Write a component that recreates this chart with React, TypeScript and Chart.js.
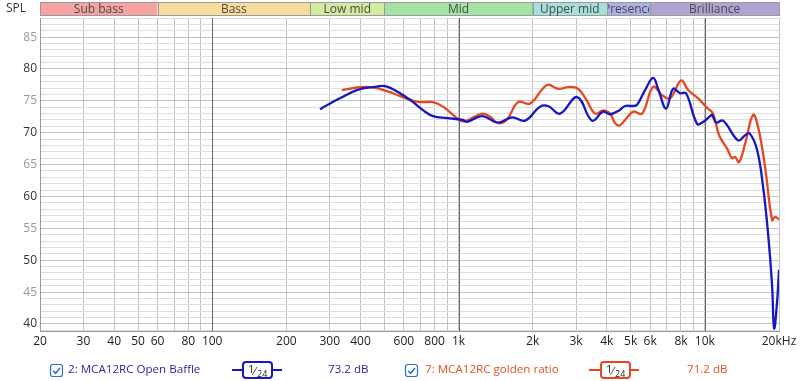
import React, { useEffect, useRef } from 'react';
import { Chart, registerables } from 'chart.js';

Chart.register(...registerables);

const FONT = '"Open Sans", "Noto Sans", sans-serif';

// Series 2: MCA12RC Open Baffle (frequency Hz, SPL dB)
const openBaffleFreq = [274, 301, 330, 387, 458, 503, 579, 654, 720, 788, 899, 1043, 1083, 1246, 1447, 1650, 1863, 2143, 2310, 2584, 3030, 3486, 3862, 4124, 4486, 4744, 5112, 5308, 5720, 6166, 6458, 6960, 7432, 7934, 8392, 9300, 9838, 10504, 10700, 11110, 11858, 13642, 14570, 15200, 16300, 17238, 18058, 18752, 19108, 19648, 20000];
const openBaffleDb = [73.7, 74.6, 75.4, 76.7, 77.2, 77.3, 76.2, 74.8, 73.5, 72.6, 72.3, 72.0, 71.7, 72.6, 71.6, 72.4, 71.9, 74.1, 74.2, 73.0, 75.6, 71.9, 73.3, 72.9, 73.5, 74.2, 74.2, 74.4, 76.7, 78.6, 76.9, 73.8, 76.9, 76.2, 76.2, 71.4, 71.7, 72.6, 72.8, 71.6, 71.9, 68.8, 69.6, 69.9, 67.3, 61.5, 54.2, 46.0, 39.3, 43.5, 48.5];

// Series 7: MCA12RC golden ratio
const goldenFreq = [336, 387, 425, 467, 542, 654, 718, 788, 865, 950, 1030, 1093, 1246, 1343, 1447, 1574, 1744, 1952, 2288, 2536, 2838, 3058, 3300, 3584, 3862, 4124, 4322, 4528, 5112, 5562, 6166, 6704, 7226, 8008, 8550, 9390, 10214, 10802, 11426, 12312, 12898, 13266, 13772, 14570, 15696, 16454, 17564, 18752, 19286, 20000];
const goldenDb = [76.7, 77.1, 77.2, 77.0, 76.2, 75.0, 74.8, 74.8, 74.1, 72.8, 71.8, 72.0, 73.0, 72.5, 71.5, 72.1, 74.8, 74.6, 77.5, 76.9, 77.2, 76.9, 75.2, 73.0, 73.5, 73.0, 71.5, 71.2, 73.3, 73.0, 77.2, 75.9, 75.4, 78.2, 76.7, 75.4, 73.9, 73.0, 69.6, 67.5, 66.0, 66.2, 65.4, 68.3, 72.8, 70.9, 64.6, 56.3, 56.8, 56.4];

// Frequency bands across the top
const bandNames = ['Sub bass', 'Bass', 'Low mid', 'Mid', 'Upper mid', 'Presence', 'Brilliance'];
const bandStart = [20, 60, 250, 500, 2000, 4000, 6000];
const bandEnd = [60, 250, 500, 2000, 4000, 6000, 20000];
const bandColors = ['#f5a3a3', '#f8dc9c', '#d2eba2', '#a4e2a6', '#a6dfdb', '#a8b2e6', '#b2a2d2'];

// Axis ticks
const xGridValues = [20, 30, 40, 50, 60, 70, 80, 90, 100, 200, 300, 400, 500, 600, 700, 800, 900, 1000, 2000, 3000, 4000, 5000, 6000, 7000, 8000, 9000, 10000, 20000];
const xDecadeValues = [100, 1000, 10000];
const xLabelValues = [20, 30, 40, 50, 60, 80, 100, 200, 300, 400, 600, 800, 1000, 2000, 3000, 4000, 5000, 6000, 8000, 10000, 20000];
const xLabelTexts = ['20', '30', '40', '50', '60', '80', '100', '200', '300', '400', '600', '800', '1k', '2k', '3k', '4k', '5k', '6k', '8k', '10k', '20kHz'];
const yMin = 38.9;
const yMax = 88;

// Legend
const legendNames = ['2: MCA12RC Open Baffle', '7: MCA12RC golden ratio'];
const legendValues = ['73.2 dB', '71.2 dB'];
const seriesColors = ['#1616c4', '#e8461e'];
const legendTextColors = ['#2a2aa0', '#e0502a'];

function roundRect(ctx: CanvasRenderingContext2D, x: number, y: number, w: number, h: number, r: number) {
  ctx.beginPath();
  ctx.moveTo(x + r, y);
  ctx.lineTo(x + w - r, y);
  ctx.quadraticCurveTo(x + w, y, x + w, y + r);
  ctx.lineTo(x + w, y + h - r);
  ctx.quadraticCurveTo(x + w, y + h, x + w - r, y + h);
  ctx.lineTo(x + r, y + h);
  ctx.quadraticCurveTo(x, y + h, x, y + h - r);
  ctx.lineTo(x, y + r);
  ctx.quadraticCurveTo(x, y, x + r, y);
  ctx.closePath();
}

const decadePlugin = {
  id: 'decades',
  beforeDatasetsDraw(chart: any) {
    const ctx: CanvasRenderingContext2D = chart.ctx;
    const xs = chart.scales.x;
    const area = chart.chartArea;
    ctx.save();
    ctx.strokeStyle = '#6a6a6a';
    ctx.lineWidth = 1;
    for (const v of xDecadeValues) {
      const px = Math.round(xs.getPixelForValue(v)) + 0.5;
      ctx.beginPath();
      ctx.moveTo(px, area.top);
      ctx.lineTo(px, area.bottom);
      ctx.stroke();
    }
    ctx.restore();
  },
};

const bandsPlugin = {
  id: 'bands',
  afterDraw(chart: any) {
    const ctx: CanvasRenderingContext2D = chart.ctx;
    const xs = chart.scales.x;
    ctx.save();
    ctx.font = `12px ${FONT}`;
    ctx.fillStyle = '#333';
    ctx.textAlign = 'left';
    ctx.textBaseline = 'middle';
    ctx.fillText('SPL', 6, 9);
    for (let i = 0; i < bandNames.length; i++) {
      const x1 = xs.getPixelForValue(bandStart[i]);
      const x2 = xs.getPixelForValue(bandEnd[i]);
      ctx.fillStyle = bandColors[i];
      ctx.fillRect(x1, 2, x2 - x1, 14);
      ctx.strokeStyle = '#9a9a9a';
      ctx.lineWidth = 1;
      ctx.strokeRect(Math.round(x1) + 0.5, 2.5, Math.round(x2 - x1), 13);
      ctx.save();
      ctx.beginPath();
      ctx.rect(x1 + 1, 2, x2 - x1 - 2, 14);
      ctx.clip();
      ctx.fillStyle = '#4a4a4a';
      ctx.textAlign = 'center';
      ctx.fillText(bandNames[i], (x1 + x2) / 2, 9.5);
      ctx.restore();
    }
    ctx.restore();
  },
};

function drawCheckbox(ctx: CanvasRenderingContext2D, x: number, y: number) {
  ctx.save();
  roundRect(ctx, x + 0.5, y + 0.5, 12, 12, 2.5);
  ctx.fillStyle = '#fff';
  ctx.fill();
  ctx.strokeStyle = '#2f6fd0';
  ctx.lineWidth = 1.2;
  ctx.stroke();
  ctx.beginPath();
  ctx.moveTo(x + 3.2, y + 6.8);
  ctx.lineTo(x + 5.6, y + 9.2);
  ctx.lineTo(x + 10, y + 4);
  ctx.lineWidth = 1.6;
  ctx.stroke();
  ctx.restore();
}

function drawIcon(ctx: CanvasRenderingContext2D, lx1: number, lx2: number, bx: number, color: string) {
  ctx.save();
  ctx.strokeStyle = color;
  ctx.lineWidth = 2;
  ctx.beginPath();
  ctx.moveTo(lx1, 370);
  ctx.lineTo(lx2, 370);
  ctx.stroke();
  roundRect(ctx, bx, 362, 29, 16, 3);
  ctx.fillStyle = '#fff';
  ctx.fill();
  ctx.stroke();
  ctx.fillStyle = '#222';
  ctx.textBaseline = 'alphabetic';
  ctx.textAlign = 'left';
  ctx.font = `11px ${FONT}`;
  ctx.fillText('1', bx + 5, 373);
  ctx.fillText('\u2044', bx + 11, 375);
  ctx.font = `9px ${FONT}`;
  ctx.fillText('24', bx + 14, 377);
  ctx.restore();
}

const legendPlugin = {
  id: 'rewLegend',
  afterDraw(chart: any) {
    const ctx: CanvasRenderingContext2D = chart.ctx;
    ctx.save();
    ctx.textBaseline = 'middle';
    ctx.textAlign = 'left';
    const cbX = [50, 405];
    const textX = [68, 425];
    const lineX1 = [232, 589];
    const lineX2 = [282, 639];
    const boxX = [243, 601];
    const valX = [328, 687];
    for (let i = 0; i < legendNames.length; i++) {
      drawCheckbox(ctx, cbX[i], 364);
      ctx.font = `11.6px ${FONT}`;
      ctx.fillStyle = legendTextColors[i];
      ctx.fillText(legendNames[i], textX[i], 370);
      drawIcon(ctx, lineX1[i], lineX2[i], boxX[i], seriesColors[i]);
      ctx.fillStyle = legendTextColors[i];
      ctx.font = `11.6px ${FONT}`;
      ctx.textBaseline = 'middle';
      ctx.fillText(legendValues[i], valX[i], 370);
    }
    ctx.restore();
  },
};

export default function App() {
  const ref = useRef<HTMLCanvasElement>(null);
  useEffect(() => {
    const toPoints = (fs: number[], ds: number[]) => fs.map((f, i) => ({ x: f, y: ds[i] }));
    const chart = new Chart(ref.current as HTMLCanvasElement, {
      type: 'line',
      data: {
        datasets: [
          {
            label: legendNames[0],
            data: toPoints(openBaffleFreq, openBaffleDb),
            borderColor: seriesColors[0],
            borderWidth: 2.3,
            pointRadius: 0,
            tension: 0.4,
            fill: false,
          },
          {
            label: legendNames[1],
            data: toPoints(goldenFreq, goldenDb),
            borderColor: seriesColors[1],
            borderWidth: 2.3,
            pointRadius: 0,
            tension: 0.4,
            fill: false,
          },
        ],
      },
      options: {
        responsive: false,
        animation: false,
        layout: { padding: { left: 0, right: 21, top: 18, bottom: 0 } },
        plugins: { legend: { display: false }, tooltip: { enabled: false } },
        scales: {
          x: {
            type: 'logarithmic',
            min: 20,
            max: 20000,
            afterBuildTicks: (axis: any) => {
              axis.ticks = xGridValues.map((v) => ({ value: v }));
            },
            afterFit: (axis: any) => {
              axis.height = 50;
            },
            grid: {
              drawTicks: false,
              lineWidth: 1,
              color: '#c2c2c2',
            },
            border: { display: true, color: '#9a9a9a' },
            ticks: {
              autoSkip: false,
              maxRotation: 0,
              minRotation: 0,
              padding: 3,
              color: '#222',
              font: { family: FONT, size: 12 },
              callback: (v: any) => {
                const idx = xLabelValues.indexOf(Number(v));
                return idx >= 0 ? xLabelTexts[idx] : '';
              },
            },
          },
          y: {
            type: 'linear',
            min: yMin,
            max: yMax,
            afterBuildTicks: (axis: any) => {
              const t = [];
              for (let v = Math.ceil(yMin); v <= yMax; v++) t.push({ value: v });
              axis.ticks = t;
            },
            afterFit: (axis: any) => {
              axis.width = 40;
            },
            grid: {
              drawTicks: false,
              lineWidth: 1,
              color: (c: any) => {
                const v = c.tick ? c.tick.value : 0;
                return v % 5 === 0 ? '#c2c2c2' : '#dedede';
              },
            },
            border: { display: true, color: '#9a9a9a' },
            ticks: {
              autoSkip: false,
              padding: 3,
              font: { family: FONT, size: 12 },
              color: (c: any) => (c.tick && c.tick.value % 10 === 0 ? '#333' : '#999'),
              callback: (v: any) => (Number(v) % 5 === 0 ? String(v) : ''),
            },
          },
        },
      },
      plugins: [decadePlugin, bandsPlugin, legendPlugin],
    } as any);
    return () => chart.destroy();
  }, []);
  return (
    <div style={{ position: 'fixed', left: 0, top: 0, width: 800, height: 381, background: '#fff' }}>
      <canvas ref={ref} width={800} height={381} style={{ display: 'block' }} />
    </div>
  );
}
